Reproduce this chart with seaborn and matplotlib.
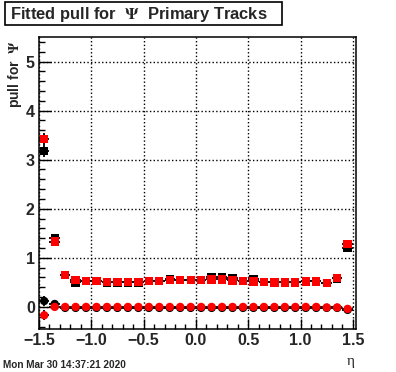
import numpy as np
import pandas as pd
import matplotlib
matplotlib.use("Agg")
import matplotlib.pyplot as plt
import seaborn as sns
from matplotlib.ticker import MultipleLocator
from matplotlib.patches import Rectangle

# eta bin centres
eta = [-1.45, -1.35, -1.25, -1.15, -1.05, -0.95, -0.85, -0.75, -0.65, -0.55,
       -0.45, -0.35, -0.25, -0.15, -0.05, 0.05, 0.15, 0.25, 0.35, 0.45,
       0.55, 0.65, 0.75, 0.85, 0.95, 1.05, 1.15, 1.25, 1.35, 1.45]

# fitted sigma of the pull (squares)
sigma_black = [3.18, 1.41, 0.65, 0.50, 0.53, 0.53, 0.50, 0.50, 0.50, 0.50,
               0.53, 0.53, 0.56, 0.55, 0.55, 0.55, 0.60, 0.61, 0.59, 0.53,
               0.56, 0.51, 0.50, 0.50, 0.50, 0.52, 0.52, 0.49, 0.58, 1.20]
sigma_red = [3.42, 1.33, 0.65, 0.55, 0.53, 0.53, 0.51, 0.51, 0.51, 0.51,
             0.53, 0.53, 0.55, 0.55, 0.55, 0.55, 0.56, 0.56, 0.54, 0.53,
             0.52, 0.51, 0.50, 0.50, 0.50, 0.52, 0.52, 0.49, 0.59, 1.28]
sigma_err = [0.12, 0.06, 0.02, 0.02, 0.02, 0.02, 0.02, 0.02, 0.02, 0.02,
             0.02, 0.02, 0.02, 0.02, 0.02, 0.02, 0.02, 0.02, 0.02, 0.02,
             0.02, 0.02, 0.02, 0.02, 0.02, 0.02, 0.02, 0.02, 0.03, 0.05]

# fitted mean of the pull (circles)
mean_black = [0.12, 0.06, -0.02, -0.02, -0.02, -0.02, -0.02, -0.02, -0.02, -0.02,
              -0.02, -0.02, -0.02, -0.02, -0.02, -0.02, -0.02, -0.02, -0.02, -0.02,
              -0.02, -0.02, -0.02, -0.02, -0.02, -0.02, -0.02, -0.02, -0.02, -0.06]
mean_red = [-0.17, 0.00, 0.00, 0.00, 0.00, 0.00, 0.00, 0.00, 0.00, 0.00,
            0.00, 0.00, 0.00, 0.00, 0.00, 0.00, 0.00, 0.00, 0.00, 0.00,
            0.00, 0.00, 0.00, 0.00, 0.00, 0.00, 0.00, -0.01, -0.01, -0.04]
mean_err = [0.10, 0.04, 0.02, 0.02, 0.02, 0.02, 0.02, 0.02, 0.02, 0.02,
            0.02, 0.02, 0.02, 0.02, 0.02, 0.02, 0.02, 0.02, 0.02, 0.02,
            0.02, 0.02, 0.02, 0.02, 0.02, 0.02, 0.02, 0.02, 0.02, 0.04]

sns.set_style("ticks")
plt.rcParams['font.family'] = ['Liberation Sans', 'DejaVu Sans']
plt.rcParams['font.weight'] = 'bold'
plt.rcParams['mathtext.fontset'] = 'stix'

fig = plt.figure(figsize=(3.96, 3.72), dpi=100)
ax = fig.add_axes([0.0985, 0.1156, 0.8005, 0.785])

# error bars (ROOT draws them in black line colour), then markers
series = [
    (sigma_black, sigma_err, 'black', 's'),
    (mean_black, mean_err, 'black', 'o'),
    (sigma_red, sigma_err, 'red', 's'),
    (mean_red, mean_err, 'red', 'o'),
]
for vals, errs, col, mk in series:
    ax.errorbar(eta, vals, xerr=0.05, yerr=errs, fmt='none', ecolor='black',
                elinewidth=1.3, capsize=0, zorder=2)
    df = pd.DataFrame({'eta': eta, 'val': vals})
    sns.scatterplot(data=df, x='eta', y='val', marker=mk, color=col, s=36,
                    edgecolor='none', linewidth=0, ax=ax, zorder=3)

ax.set_xlim(-1.5, 1.53)
ax.set_ylim(-0.45, 5.5)
ax.set_xlabel('')
ax.set_ylabel('')

ax.xaxis.set_major_locator(MultipleLocator(0.5))
ax.xaxis.set_minor_locator(MultipleLocator(0.1))
ax.yaxis.set_major_locator(MultipleLocator(1))
ax.yaxis.set_minor_locator(MultipleLocator(0.2))
ax.tick_params(which='both', direction='in', top=False, right=False,
               width=1, color='black', labelsize=11.5)
ax.tick_params(axis='y', which='major', length=8.5, pad=3)
ax.tick_params(axis='y', which='minor', length=4.5)
ax.tick_params(axis='x', which='major', length=7, pad=3)
ax.tick_params(axis='x', which='minor', length=3.5)
for lab in ax.get_xticklabels() + ax.get_yticklabels():
    lab.set_fontweight('bold')

ax.grid(True, which='major', linestyle=':', color='black', linewidth=1)
for sp in ax.spines.values():
    sp.set_linewidth(1.1)
    sp.set_color('black')

# title box
fig.patches.append(Rectangle((5 / 396, 1 - 25 / 372), 277 / 396, 23 / 372,
                             transform=fig.transFigure, facecolor='white',
                             edgecolor='black', linewidth=1.2))
fig.text(10 / 396, 1 - 14 / 372, r'Fitted pull for  $\Psi$  Primary Tracks',
         fontsize=11.9, fontweight='bold', va='center', ha='left')

# axis titles
fig.text(15 / 396, 1 - 40 / 372, r'pull for  $\Psi$', rotation=90,
         fontsize=10, fontweight='bold', ha='center', va='top')
fig.text(351 / 396, 1 - 362 / 372, 'η', fontsize=11, ha='center',
         va='center', family=['Liberation Serif', 'DejaVu Serif'],
         fontweight='normal')
fig.text(3 / 396, 1 - 365 / 372, 'Mon Mar 30 14:37:21 2020', fontsize=7.2,
         fontweight='bold', ha='left', va='center')

fig.savefig('out.png', dpi=100)
